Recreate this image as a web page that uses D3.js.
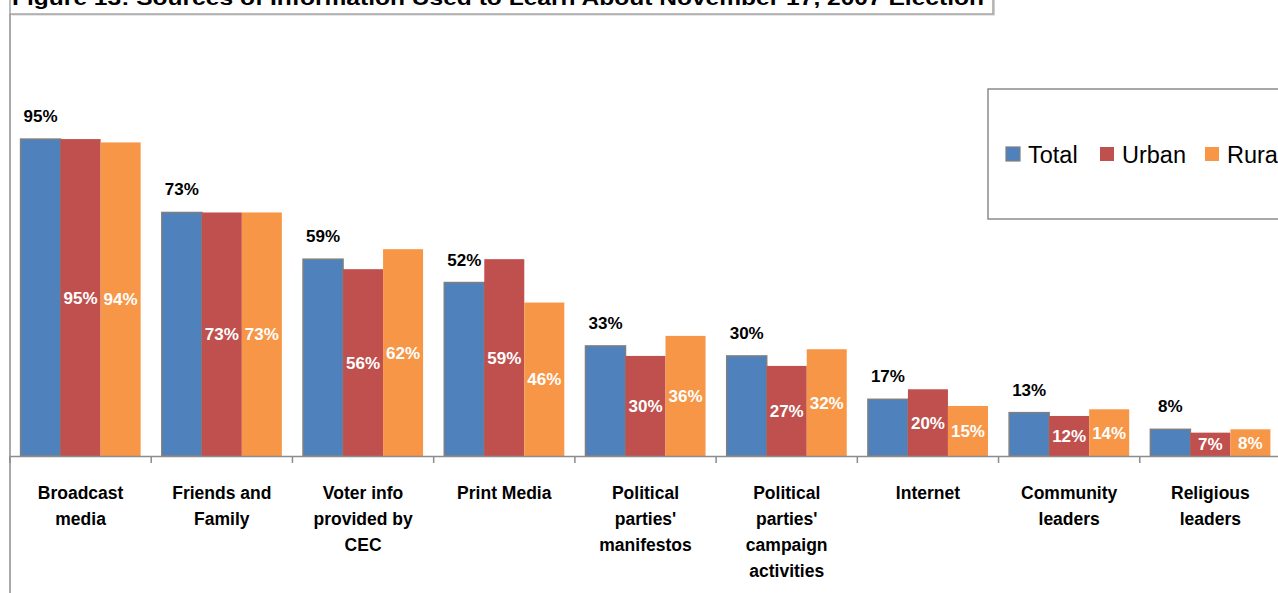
<!DOCTYPE html>
<html>
<head>
<meta charset="utf-8">
<script src="https://cdn.jsdelivr.net/npm/d3@7/dist/d3.min.js"></script>
<style>
  html, body { margin: 0; padding: 0; background: #fff; }
  svg { display: block; font-family: "Liberation Sans", Arial, sans-serif; }
</style>
</head>
<body>
<svg id="chart" width="1278" height="593"></svg>
<script>
// Sources of information used to learn about the election (% of respondents)
const categories = [
  "Broadcast media",
  "Friends and Family",
  "Voter info provided by CEC",
  "Print Media",
  "Political parties' manifestos",
  "Political parties' campaign activities",
  "Internet",
  "Community leaders",
  "Religious leaders"
];
// Wrapped lines for the category axis labels
const categoryLines = [
  ["Broadcast", "media"],
  ["Friends and", "Family"],
  ["Voter info", "provided by", "CEC"],
  ["Print Media"],
  ["Political", "parties'", "manifestos"],
  ["Political", "parties'", "campaign", "activities"],
  ["Internet"],
  ["Community", "leaders"],
  ["Religious", "leaders"]
];
const seriesNames = ["Total", "Urban", "Rural"];
const totalValues = [95, 73, 59, 52, 33, 30, 17, 13, 8];
const urbanValues = [95, 73, 56, 59, 30, 27, 20, 12, 7];
const ruralValues = [94, 73, 62, 46, 36, 32, 15, 14, 8];
const titleText = "Figure 13: Sources of Information Used to Learn About November 17, 2007 Election";

const colors = { Total: "#4F81BD", Urban: "#C0504D", Rural: "#F79646" };
const seriesValues = { Total: totalValues, Urban: urbanValues, Rural: ruralValues };

const svg = d3.select("#chart");

const baseY = 456;
const x = d3.scaleBand().domain(categories).range([10, 1281]).padding(0);
const xs = d3.scaleBand().domain(seriesNames)
  .range([x.bandwidth() * 0.075, x.bandwidth() * 0.925]).padding(0);
const y = d3.scaleLinear().domain([0, 100]).range([baseY, 122.4]);

// Title box (top edge runs off the canvas)
svg.append("rect")
  .attr("x", 12).attr("y", -20).attr("width", 983).attr("height", 35.5)
  .attr("fill", "#d0d0d0");
svg.append("rect")
  .attr("x", 10).attr("y", -20).attr("width", 983).attr("height", 34)
  .attr("fill", "#fff").attr("stroke", "#a6a6a6").attr("stroke-width", 1.5);
svg.append("text")
  .attr("x", 12).attr("y", 5)
  .attr("font-weight", "bold").attr("font-size", 21)
  .attr("textLength", 972).attr("lengthAdjust", "spacingAndGlyphs")
  .attr("fill", "#000")
  .text(titleText);

// Left frame line
svg.append("line")
  .attr("x1", 10).attr("x2", 10).attr("y1", 14).attr("y2", 593)
  .attr("stroke", "#8c8c8c").attr("stroke-width", 1.5);

// Bars
const groups = svg.append("g").selectAll("g")
  .data(categories)
  .join("g")
  .attr("transform", d => `translate(${x(d)},0)`);

seriesNames.forEach(s => {
  groups.append("rect")
    .attr("x", xs(s))
    .attr("width", xs.bandwidth())
    .attr("y", (d, i) => y(seriesValues[s][i]))
    .attr("height", (d, i) => baseY - y(seriesValues[s][i]))
    .attr("fill", colors[s])
    .attr("stroke", s === "Total" ? "#7f7f7f" : "none")
    .attr("stroke-width", s === "Total" ? 1.5 : 0);
});

// Total labels above the bars
groups.append("text")
  .attr("x", xs("Total") + xs.bandwidth() / 2)
  .attr("y", (d, i) => y(totalValues[i]) - 17)
  .attr("text-anchor", "middle")
  .attr("font-weight", "bold").attr("font-size", 17)
  .attr("fill", "#000")
  .text((d, i) => totalValues[i] + "%");

// Urban / Rural labels inside the bars
["Urban", "Rural"].forEach(s => {
  groups.append("text")
    .attr("x", xs(s) + xs.bandwidth() / 2)
    .attr("y", (d, i) => (y(seriesValues[s][i]) + baseY) / 2)
    .attr("dy", "0.36em")
    .attr("text-anchor", "middle")
    .attr("font-weight", "bold").attr("font-size", 17)
    .attr("fill", "#fff")
    .text((d, i) => seriesValues[s][i] + "%");
});

// Category axis
const axis = d3.axisBottom(x).tickSize(0).tickFormat("");
const axisG = svg.append("g").attr("transform", `translate(0,${baseY})`).call(axis);
axisG.select(".domain").attr("stroke", "#8c8c8c").attr("stroke-width", 1.5);
// Boundary tick marks between categories
svg.append("g").selectAll("line")
  .data(categories)
  .join("line")
  .attr("x1", d => x(d)).attr("x2", d => x(d))
  .attr("y1", baseY).attr("y2", baseY + 7)
  .attr("stroke", "#8c8c8c").attr("stroke-width", 1.5);

// Category labels
const labels = svg.append("g").selectAll("text")
  .data(categories)
  .join("text")
  .attr("x", d => x(d) + x.bandwidth() / 2)
  .attr("text-anchor", "middle")
  .attr("font-weight", "bold").attr("font-size", 17.5)
  .attr("fill", "#000");
labels.each(function(d, i) {
  d3.select(this).selectAll("tspan")
    .data(categoryLines[i])
    .join("tspan")
    .attr("x", x(d) + x.bandwidth() / 2)
    .attr("y", (t, j) => 499 + j * 26)
    .text(t => t);
});

// Legend
const legend = svg.append("g");
legend.append("rect")
  .attr("x", 988).attr("y", 89).attr("width", 320).attr("height", 130)
  .attr("fill", "#fff").attr("stroke", "#8c8c8c").attr("stroke-width", 1.5);
const legendX = { Total: 1006, Urban: 1100, Rural: 1205 };
seriesNames.forEach(s => {
  legend.append("rect")
    .attr("x", legendX[s]).attr("y", 147).attr("width", 14).attr("height", 14)
    .attr("fill", colors[s])
    .attr("stroke", s === "Total" ? "#7f7f7f" : "none")
    .attr("stroke-width", 1.2);
  legend.append("text")
    .attr("x", legendX[s] + 22).attr("y", 163)
    .attr("font-size", 23.5).attr("fill", "#000")
    .text(s);
});
</script>
</body>
</html>
